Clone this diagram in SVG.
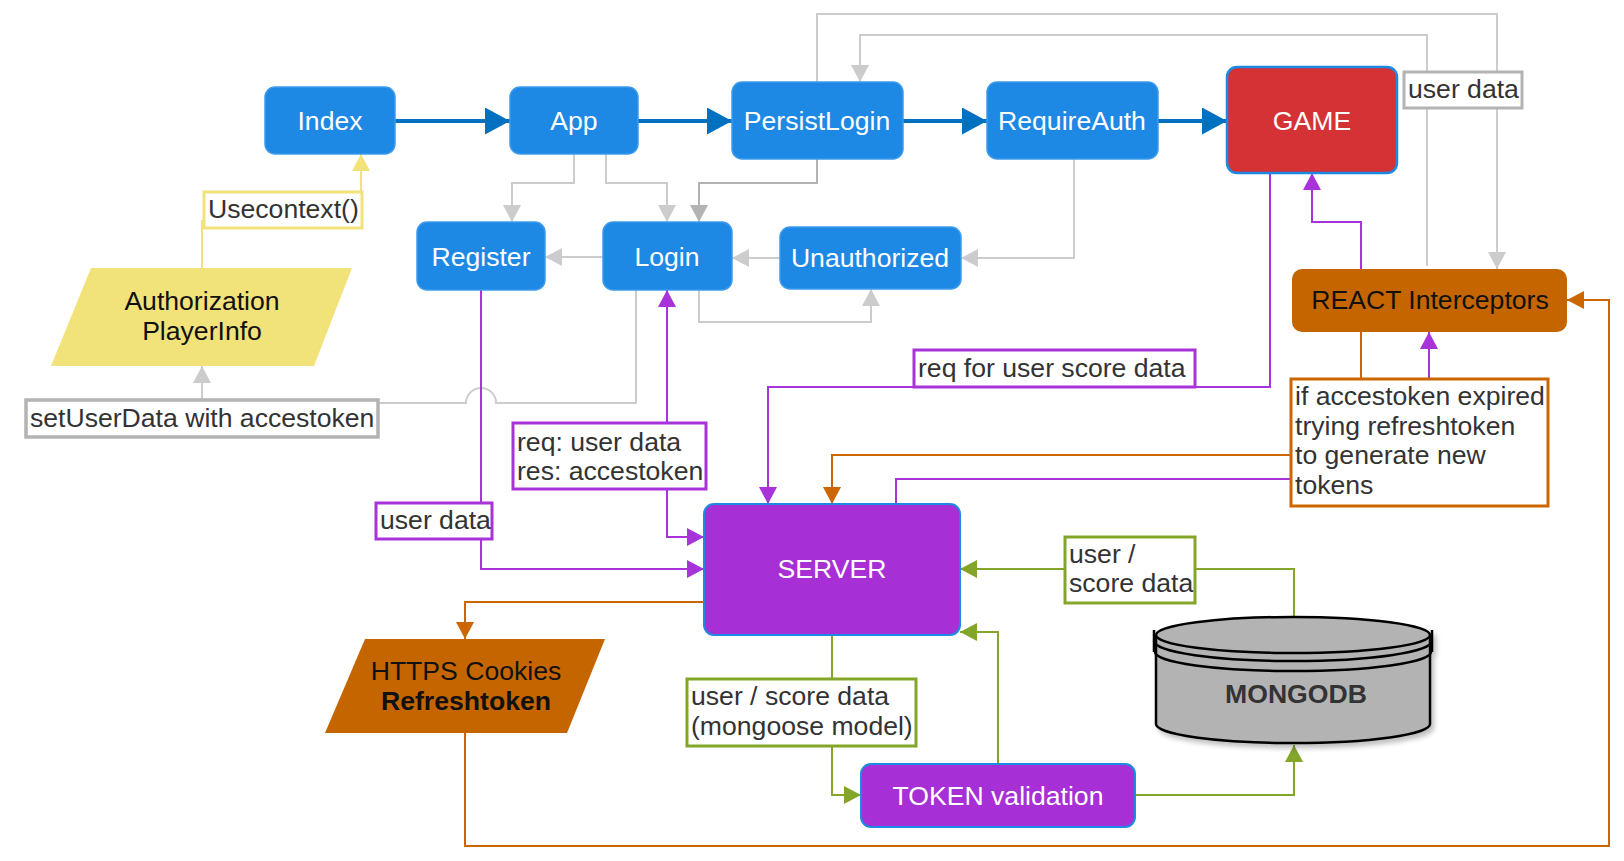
<svg xmlns="http://www.w3.org/2000/svg" width="1624" height="861" viewBox="0 0 1624 861">
<defs>
<style>
text{font-family:"Liberation Sans",Arial,sans-serif;font-size:26.6px}
.nt{fill:#ffffff;text-anchor:middle}
.bn{fill:#1E88E5;stroke:#3D9BEB;stroke-width:1.5}
.pn{fill:#A630D5;stroke:#1E88E5;stroke-width:2}
.lt{fill:#333333}
.lb{fill:#ffffff;stroke-width:3}
.c{fill:none;stroke-width:2}
.blue{fill:none;stroke:#0070C0;stroke-width:4;marker-end:url(#aBlue)}
.gray{stroke:#CCCCCC;marker-end:url(#aGray)}
.dgray{stroke:#B3B3B3;marker-end:url(#aDGray)}
.pur{stroke:#A833D8;marker-end:url(#aPur)}
.org{stroke:#CC6600;marker-end:url(#aOrg)}
.grn{stroke:#82A52A;marker-end:url(#aGrn)}
.yel{stroke:#F2E27A;marker-end:url(#aYel)}
</style>
<filter id="shadow" x="-10%" y="-10%" width="130%" height="140%"><feGaussianBlur in="SourceAlpha" stdDeviation="2.5"/><feOffset dx="3" dy="4" result="b"/><feComponentTransfer><feFuncA type="linear" slope="0.25"/></feComponentTransfer><feMerge><feMergeNode/><feMergeNode in="SourceGraphic"/></feMerge></filter>
<marker id="aBlue" markerUnits="userSpaceOnUse" markerWidth="25" markerHeight="27" refX="25" refY="13.5" orient="auto"><path d="M0,0 L25,13.5 L0,27 z" fill="#0070C0"/></marker>
<marker id="aGray" markerUnits="userSpaceOnUse" markerWidth="17" markerHeight="18" refX="17" refY="9" orient="auto"><path d="M0,0 L17,9 L0,18 z" fill="#CCCCCC"/></marker>
<marker id="aDGray" markerUnits="userSpaceOnUse" markerWidth="17" markerHeight="18" refX="17" refY="9" orient="auto"><path d="M0,0 L17,9 L0,18 z" fill="#B3B3B3"/></marker>
<marker id="aPur" markerUnits="userSpaceOnUse" markerWidth="17" markerHeight="18" refX="17" refY="9" orient="auto-start-reverse"><path d="M0,0 L17,9 L0,18 z" fill="#A833D8"/></marker>
<marker id="aOrg" markerUnits="userSpaceOnUse" markerWidth="17" markerHeight="18" refX="17" refY="9" orient="auto"><path d="M0,0 L17,9 L0,18 z" fill="#CC6600"/></marker>
<marker id="aGrn" markerUnits="userSpaceOnUse" markerWidth="17" markerHeight="18" refX="17" refY="9" orient="auto"><path d="M0,0 L17,9 L0,18 z" fill="#82A52A"/></marker>
<marker id="aYel" markerUnits="userSpaceOnUse" markerWidth="17" markerHeight="18" refX="17" refY="9" orient="auto"><path d="M0,0 L17,9 L0,18 z" fill="#F2E27A"/></marker>
</defs>
<rect width="1624" height="861" fill="#ffffff"/>

<g id="connectors">
<path class="blue" d="M395,121 H510"/>
<path class="blue" d="M638,121 H732"/>
<path class="blue" d="M903,121 H987"/>
<path class="blue" d="M1158,121 H1227"/>
<path class="c gray" d="M574,154 V183 H512 V222"/>
<path class="c gray" d="M606,154 V183 H667 V222"/>
<path class="c dgray" d="M817,159 V183 H699 V222"/>
<path class="c gray" d="M603,257 H545"/>
<path class="c gray" d="M780,258 H732"/>
<path class="c gray" d="M1074,159 V258 H961"/>
<path class="c gray" d="M699,290 V322 H871 V289"/>
<path class="c gray" d="M636,290 V403 H496 A15,15 0 0 0 466,403 H202 V366"/>
<path class="c gray" d="M817,82 V14 H1497 V269"/>
<path class="c gray" d="M1427,266 V35 H860 V82"/>
<path class="c yel" d="M202,268 V221 H361 V154"/>
<path class="c pur" d="M1361,269 V222 H1312 V173"/>
<path class="c pur" d="M1270,173 V387 H768 V504"/>
<path class="c pur" d="M704,537 H667 V290" marker-start="url(#aPur)"/>
<path class="c pur" d="M481,290 V569 H704"/>
<path class="c pur" d="M896,504 V479 H1429 V332"/>
<path class="c org" d="M1361,332 V455 H832 V504"/>
<path class="c org" d="M704,602 H465 V639"/>
<path class="c org" d="M465,733 V846 H1609 V300 H1567"/>
<path class="c grn" d="M1294,617 V569 H960"/>
<path class="c grn" d="M998,764 V632 H960"/>
<path class="c grn" d="M832,635 V795 H861"/>
<path class="c grn" d="M1135,795 H1294 V745"/>
</g>

<g id="edge-labels">
<g id="lbl-usecontext"><rect class="lb" x="204" y="192" width="158" height="36" stroke="#F2E27A"/><text class="lt" x="208" y="218">Usecontext()</text></g>
<g id="lbl-userdata-top"><rect class="lb" x="1404" y="72" width="118" height="36" stroke="#B3B3B3"/><text class="lt" x="1408" y="98">user data</text></g>
<g id="lbl-setuserdata"><rect x="26" y="400" width="352" height="37" fill="#ffffff" stroke="#B3B3B3" stroke-width="3.5"/><text class="lt" x="30" y="427">setUserData with accestoken</text></g>
<g id="lbl-req-score"><rect class="lb" x="914" y="350" width="281" height="37" stroke="#A833D8"/><text class="lt" x="918" y="377">req for user score data</text></g>
<g id="lbl-req-res"><rect class="lb" x="513" y="423" width="193" height="66" stroke="#A833D8"/><text class="lt" x="517" y="451">req: user data</text><text class="lt" x="517" y="480">res: accestoken</text></g>
<g id="lbl-userdata-purple"><rect class="lb" x="376" y="503" width="116" height="36" stroke="#A833D8"/><text class="lt" x="380" y="529">user data</text></g>
<g id="lbl-refresh"><rect class="lb" x="1291" y="379" width="257" height="127" stroke="#CC6600"/><text class="lt" x="1295" y="405">if accestoken expired</text><text class="lt" x="1295" y="435">trying refreshtoken</text><text class="lt" x="1295" y="464">to generate new</text><text class="lt" x="1295" y="494">tokens</text></g>
<g id="lbl-score-right"><rect class="lb" x="1065" y="537" width="130" height="66" stroke="#82A52A"/><text class="lt" x="1069" y="563">user /</text><text class="lt" x="1069" y="592">score data</text></g>
<g id="lbl-mongoose"><rect class="lb" x="687" y="679" width="229" height="67" stroke="#82A52A"/><text class="lt" x="691" y="705">user / score data</text><text class="lt" x="691" y="735">(mongoose model)</text></g>
</g>

<g id="node-index"><rect class="bn" x="265" y="87" width="130" height="67" rx="10"/><text class="nt" x="330" y="130">Index</text></g>
<g id="node-app"><rect class="bn" x="510" y="87" width="128" height="67" rx="10"/><text class="nt" x="574" y="130">App</text></g>
<g id="node-persistlogin"><rect class="bn" x="732" y="82" width="171" height="77" rx="10"/><text class="nt" x="817" y="130">PersistLogin</text></g>
<g id="node-requireauth"><rect class="bn" x="987" y="82" width="171" height="77" rx="10"/><text class="nt" x="1072" y="130">RequireAuth</text></g>
<g id="node-game"><rect x="1227" y="67" width="170" height="106" rx="10" fill="#D43235" stroke="#1E88E5" stroke-width="2.5"/><text class="nt" x="1312" y="130">GAME</text></g>
<g id="node-register"><rect class="bn" x="417" y="222" width="128" height="68" rx="10"/><text class="nt" x="481" y="266">Register</text></g>
<g id="node-login"><rect class="bn" x="603" y="222" width="129" height="68" rx="10"/><text class="nt" x="667" y="266">Login</text></g>
<g id="node-unauthorized"><rect class="bn" x="780" y="227" width="181" height="62" rx="10"/><text class="nt" x="870" y="267">Unauthorized</text></g>
<g id="node-react"><rect x="1292" y="269" width="275" height="63" rx="10" fill="#C46500"/><text x="1430" y="309" text-anchor="middle" fill="#111111">REACT Interceptors</text></g>
<g id="node-authorization"><polygon points="91,268 352,268 314,366 51,366" fill="#F2E27A"/><text x="202" y="310" text-anchor="middle" fill="#111111">Authorization</text><text x="202" y="340" text-anchor="middle" fill="#111111">PlayerInfo</text></g>
<g id="node-server"><rect class="pn" x="704" y="504" width="256" height="131" rx="10"/><text class="nt" x="832" y="578">SERVER</text></g>
<g id="node-cookies"><polygon points="365,639 605,639 567,733 325,733" fill="#C46500"/><text x="466" y="680" text-anchor="middle" fill="#111111">HTTPS Cookies</text><text x="466" y="710" text-anchor="middle" fill="#111111" font-weight="bold">Refreshtoken</text></g>
<g id="node-token"><rect class="pn" x="861" y="764" width="274" height="63" rx="10"/><text class="nt" x="998" y="805">TOKEN validation</text></g>
<g id="node-mongodb">
<g filter="url(#shadow)">
<path d="M1156,635 V724 A137,19 0 0 0 1430,724 V635" fill="#B3B3B3" stroke="#000000" stroke-width="2.5"/>
<path d="M1154,630 V652 M1432,630 V652" fill="none" stroke="#000000" stroke-width="2.5"/>
<path d="M1154,641 A139,20 0 0 0 1432,641" fill="none" stroke="#000000" stroke-width="2.5"/>
<path d="M1155,652 A138,19 0 0 0 1431,652" fill="none" stroke="#000000" stroke-width="2.5"/>
<ellipse cx="1293" cy="635" rx="137" ry="18" fill="#B3B3B3" stroke="#000000" stroke-width="2.5"/>
</g>
<text x="1296" y="703" text-anchor="middle" fill="#333333" font-weight="bold">MONGODB</text>
</g>
</svg>
